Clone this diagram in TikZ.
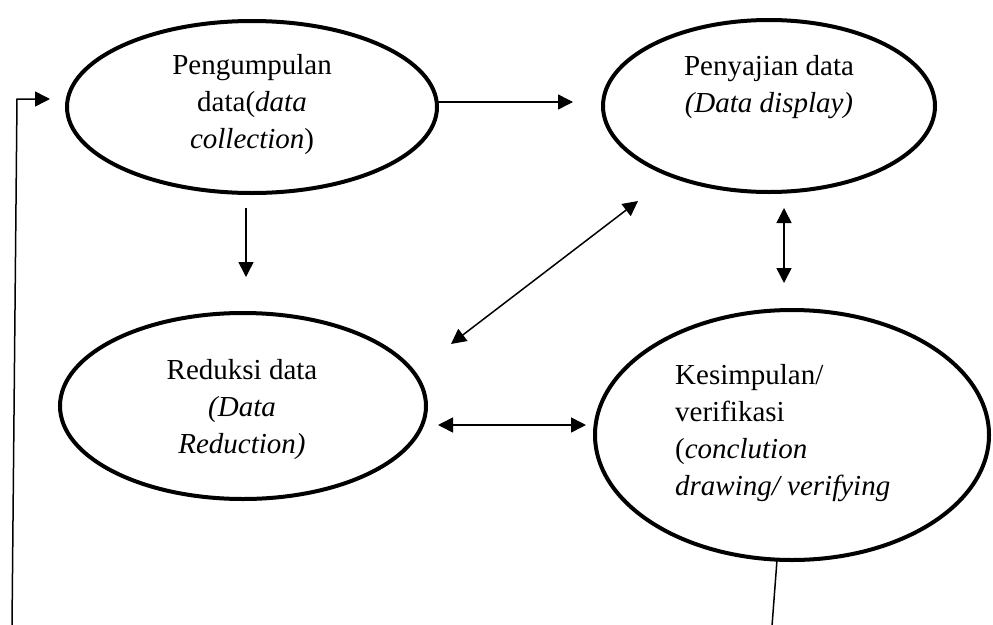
\documentclass[tikz,border=0pt]{standalone}
\usepackage{fontspec}
\setmainfont{Liberation Serif}
\usetikzlibrary{shapes.geometric,arrows.meta}

\tikzset{
  ell/.style={draw, ellipse, line width=4pt, inner sep=0pt, outer sep=0pt},
  txt/.style={font=\fontsize{29}{37}\selectfont, inner sep=0pt},
  arr/.style={line width=1.5pt, -{Triangle[length=15pt,width=15pt]}},
  darr/.style={line width=1.5pt, {Triangle[length=15pt,width=15pt]}-{Triangle[length=15pt,width=15pt]}},
}

\begin{document}
\begin{tikzpicture}[x=1pt, y=-1pt]
\useasboundingbox (0,0) rectangle (993,624);

% the four stages
\node[ell, minimum width=370pt, minimum height=172pt] (e1) at (252,107) {};
\node[ell, minimum width=332pt, minimum height=172pt] (e2) at (769,106) {};
\node[ell, minimum width=366pt, minimum height=186pt] (e3) at (243,406) {};
\node[ell, minimum width=394pt, minimum height=250pt] (e4) at (792,435) {};

\node[txt, align=center] (t1) at (252,105) {Pengumpulan\\data(\textit{data}\\\textit{collection})};
\node[txt, align=center] (t2) at (769,87) {Penyajian data\\\textit{(Data display)}};
\node[txt, align=center] (t3) at (242,410) {Reduksi data\\\textit{(Data}\\\textit{Reduction)}};
\node[txt, align=left, anchor=west] (t4) at (675,433) {Kesimpulan/\\verifikasi\\(\textit{conclution}\\\textit{drawing/ verifying}};

% connectors between the stages
\draw[arr] ([shift={(-2,-5)}]e1.east) -- ([shift={(-30,-4)}]e2.west);
\draw[arr] ([shift={(-6,15)}]e1.south) -- ([shift={(3,-36)}]e3.north);
\draw[darr] ([shift={(208,-62)}]e3.center) -- ([shift={(-131,95)}]e2.center);
\draw[darr] ([shift={(15,16)}]e2.south) -- ([shift={(-8,-27)}]e4.north);
\draw[darr] ([shift={(12,19)}]e3.east) -- ([shift={(-9,-10)}]e4.west);

% feedback loop from the conclusion back to data collection
\coordinate (cR) at (772,626);
\coordinate (cL) at (12,626);
\coordinate (cT) at (17,99);
\draw[arr] ([shift={(-15,0)}]e4.south) -- (cR) -- (cL) -- (cT) -- ([shift={(-17,-8)}]e1.west);
\end{tikzpicture}
\end{document}
